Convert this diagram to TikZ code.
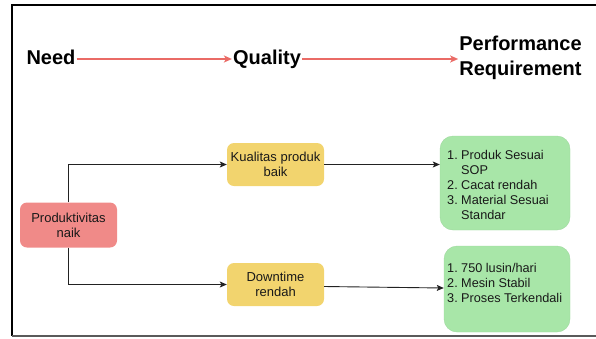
\documentclass[tikz,border=0pt]{standalone}
\usepackage{fontspec}
\setmainfont{Liberation Sans}
\usetikzlibrary{arrows.meta}
\definecolor{flowred}{HTML}{EA6B66}
\definecolor{boxred}{HTML}{F08A88}
\definecolor{boxyellow}{HTML}{F2D46E}
\definecolor{boxgreen}{HTML}{A8E6A8}
\definecolor{edgegray}{HTML}{222222}
\definecolor{framegray}{HTML}{5A5A5A}
\tikzset{
  header/.style={inner sep=1pt, align=center, text=black,
    font=\bfseries\fontsize{20}{25}\selectfont},
  oneline/.style={text height=14.5pt, text depth=4.2pt},
  flow/.style={draw=flowred, line width=1.5pt, -{Stealth[length=8pt,width=7pt,inset=2pt]}},
  card/.style={rounded corners=7pt, inner sep=0pt, align=center, text=black!90,
    font=\fontsize{13}{15}\selectfont},
  listbox/.style={rounded corners=13pt, fill=boxgreen, draw=boxgreen!90!black!60!boxgreen, inner sep=0pt},
  listtext/.style={anchor=west, inner sep=0pt, align=left, text=black!90,
    font=\fontsize{12.7}{15}\selectfont},
  link/.style={draw=edgegray, line width=0.9pt, -{Stealth[length=7pt,width=6pt,inset=1.5pt]}}
}
\begin{document}
\begin{tikzpicture}[x=1pt,y=-1pt]
  \useasboundingbox (0,0) rectangle (596,338);

  % outer frame, open on the right
  \draw[line width=2pt, black] (12,336) -- (12,5) -- (596,5);
  \draw[line width=2pt, framegray] (12,336) -- (596,336);

  % header row
  \node[header, oneline] (need) at (51,59) {Need};
  \node[header, oneline] (quality) at (267,59) {Quality};
  \node[header] (perf) at (520.5,57.5) {Performance\\Requirement};
  \draw[flow] (need.east) -- (quality.west);
  \draw[flow] (quality.east) -- (quality.east -| perf.west);

  % process boxes
  \node[card, fill=boxred, minimum width=97pt, minimum height=45pt] (prod) at (68.5,225)
    {Produktivitas\\naik};
  \node[card, fill=boxyellow, minimum width=97pt, minimum height=43pt] (kual) at (275.5,164.5)
    {Kualitas produk\\baik};
  \node[card, fill=boxyellow, minimum width=97pt, minimum height=43pt] (down) at (275.5,284.5)
    {Downtime\\rendah};

  % requirement boxes
  \node[listbox, minimum width=130pt, minimum height=94pt] (req1) at (505,183) {};
  \node[listtext] (req1txt) at (447,186) {%
    \begin{tabular}{@{}l@{\hspace{3.4pt}}l@{}}
      1. & Produk Sesuai\\
         & SOP\\
      2. & Cacat rendah\\
      3. & Material Sesuai\\
         & Standar
    \end{tabular}};
  \node[listbox, minimum width=126pt, minimum height=86pt] (req2) at (507,289) {};
  \node[listtext] (req2txt) at (447,284) {%
    \begin{tabular}{@{}l@{\hspace{3.4pt}}l@{}}
      1. & 750 lusin/hari\\
      2. & Mesin Stabil\\
      3. & Proses Terkendali
    \end{tabular}};

  % connectors
  \draw[link] (prod.north) |- (kual.west);
  \draw[link] (prod.south) |- (down.west);
  \draw[link] (kual.east) -- (kual.east -| req1.west);
  \draw[link] ([yshift=-2pt]down.east) -- ([yshift=1pt]req2.west);
\end{tikzpicture}
\end{document}
